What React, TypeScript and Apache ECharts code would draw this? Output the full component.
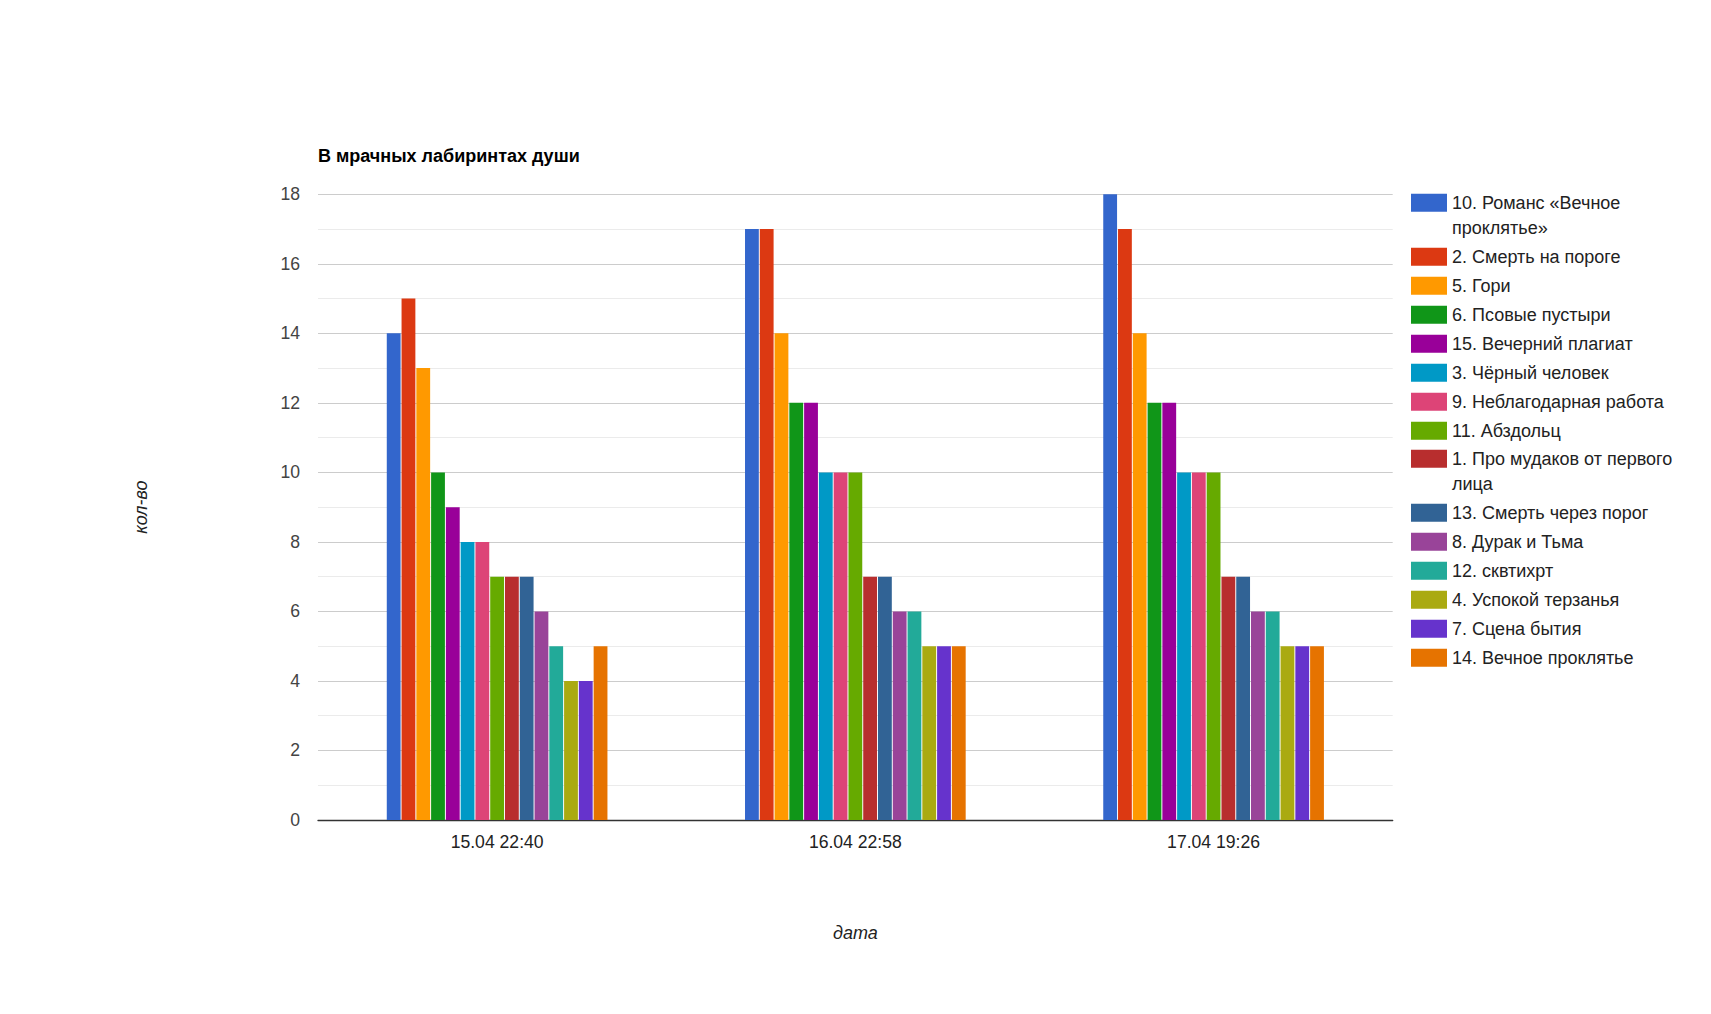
import React, { useEffect, useRef } from "react";
import * as echarts from "echarts";

const title = "В мрачных лабиринтах души";
const categories = ["15.04 22:40", "16.04 22:58", "17.04 19:26"];
const seriesNames = [
  "10. Романс «Вечное проклятье»",
  "2. Смерть на пороге",
  "5. Гори",
  "6. Псовые пустыри",
  "15. Вечерний плагиат",
  "3. Чёрный человек",
  "9. Неблагодарная работа",
  "11. Абздольц",
  "1. Про мудаков от первого лица",
  "13. Смерть через порог",
  "8. Дурак и Тьма",
  "12. сквтихрт",
  "4. Успокой терзанья",
  "7. Сцена бытия",
  "14. Вечное проклятье",
];
const values1504 = [14, 15, 13, 10, 9, 8, 8, 7, 7, 7, 6, 5, 4, 4, 5];
const values1604 = [17, 17, 14, 12, 12, 10, 10, 10, 7, 7, 6, 6, 5, 5, 5];
const values1704 = [18, 17, 14, 12, 12, 10, 10, 10, 7, 7, 6, 6, 5, 5, 5];
const colors = [
  "#3366cc", "#dc3912", "#ff9900", "#109618", "#990099",
  "#0099c6", "#dd4477", "#66aa00", "#b82e2e", "#316395",
  "#994499", "#22aa99", "#aaaa11", "#6633cc", "#e67300",
];
const yTicks = { min: 0, max: 18, interval: 2 };
const xAxisName = "дата";
const yAxisName = "кол-во";

const FONT = 'Arial, "Liberation Sans", sans-serif';
const LEGEND_MAX_CHARS = 25;

function wrapLines(name: string): string[] {
  const words = name.split(" ");
  const lines: string[] = [];
  let cur = "";
  for (const w of words) {
    const next = cur ? cur + " " + w : w;
    if (next.length > LEGEND_MAX_CHARS && cur) {
      lines.push(cur);
      cur = w;
    } else {
      cur = next;
    }
  }
  if (cur) lines.push(cur);
  return lines;
}

// Text is centred on the legend icon; for two-line names an empty leading
// line puts the first text line level with the icon, as in the reference.
function legendLabel(name: string): string {
  const lines = wrapLines(name);
  return lines.length > 1 ? "\n" + lines.join("\n") : lines[0];
}

export default function App() {
  const ref = useRef<HTMLDivElement>(null);
  useEffect(() => {
    document.body.style.margin = "0";
    if (!ref.current) return;
    const chart = echarts.init(ref.current, null, { renderer: "svg" });
    const series = seriesNames.map((name, i) => ({
      name,
      type: "bar",
      data: [values1504[i], values1604[i], values1704[i]],
      itemStyle: { color: colors[i] },
      barCategoryGap: "38.4%",
      barGap: "7%",
    }));
    const legendCommon = {
      orient: "vertical",
      left: 1411,
      padding: 0,
      itemGap: 4,
      itemWidth: 36,
      itemHeight: 18,
      icon: "rect",
      itemTextGap: 8,
      selectedMode: false,
      formatter: (name: string) => legendLabel(name),
      textStyle: {
        fontFamily: FONT,
        fontSize: 18,
        color: "#222",
        lineHeight: 25,
      },
    };
    chart.setOption({
      animation: false,
      color: colors,
      title: {
        text: title,
        left: 318,
        top: 145,
        padding: 0,
        textStyle: {
          fontFamily: FONT,
          fontSize: 18,
          fontWeight: "bold",
          color: "#000",
          lineHeight: 22,
        },
      },
      legend: [
        { ...legendCommon, top: 165.2, data: seriesNames.slice(0, 8) },
        { ...legendCommon, top: 421.3, data: seriesNames.slice(8) },
      ],
      grid: {
        left: 318,
        right: 318.3,
        top: 194.3,
        bottom: 194,
        containLabel: false,
        outerBoundsMode: "none",
      },
      xAxis: {
        type: "category",
        data: categories,
        name: xAxisName,
        nameLocation: "middle",
        nameGap: 104,
        nameTextStyle: {
          fontFamily: FONT,
          fontSize: 18,
          fontStyle: "italic",
          color: "#222",
        },
        axisTick: { show: false },
        axisLine: { show: true, lineStyle: { color: "#333", width: 1.3 } },
        axisLabel: {
          fontFamily: FONT,
          fontSize: 17.6,
          color: "#222",
          margin: 13,
        },
        splitLine: { show: false },
      },
      yAxis: {
        type: "value",
        min: yTicks.min,
        max: yTicks.max,
        interval: yTicks.interval,
        name: yAxisName,
        nameLocation: "middle",
        nameRotate: 90,
        nameGap: 168,
        nameTextStyle: {
          fontFamily: FONT,
          fontSize: 18,
          fontStyle: "italic",
          color: "#222",
        },
        axisLine: { show: false },
        axisTick: { show: false },
        axisLabel: {
          fontFamily: FONT,
          fontSize: 17.6,
          color: "#444",
          margin: 18,
        },
        splitLine: { show: true, lineStyle: { color: "#cccccc", width: 1 } },
        minorTick: { show: false, splitNumber: 2 },
        minorSplitLine: { show: true, lineStyle: { color: "#ebebeb", width: 1 } },
      },
      tooltip: { show: false },
      series,
    });
    return () => chart.dispose();
  }, []);
  return (
    <div
      ref={ref}
      style={{
        width: "1711px",
        height: "1014px",
        background: "#fff",
      }}
    />
  );
}
